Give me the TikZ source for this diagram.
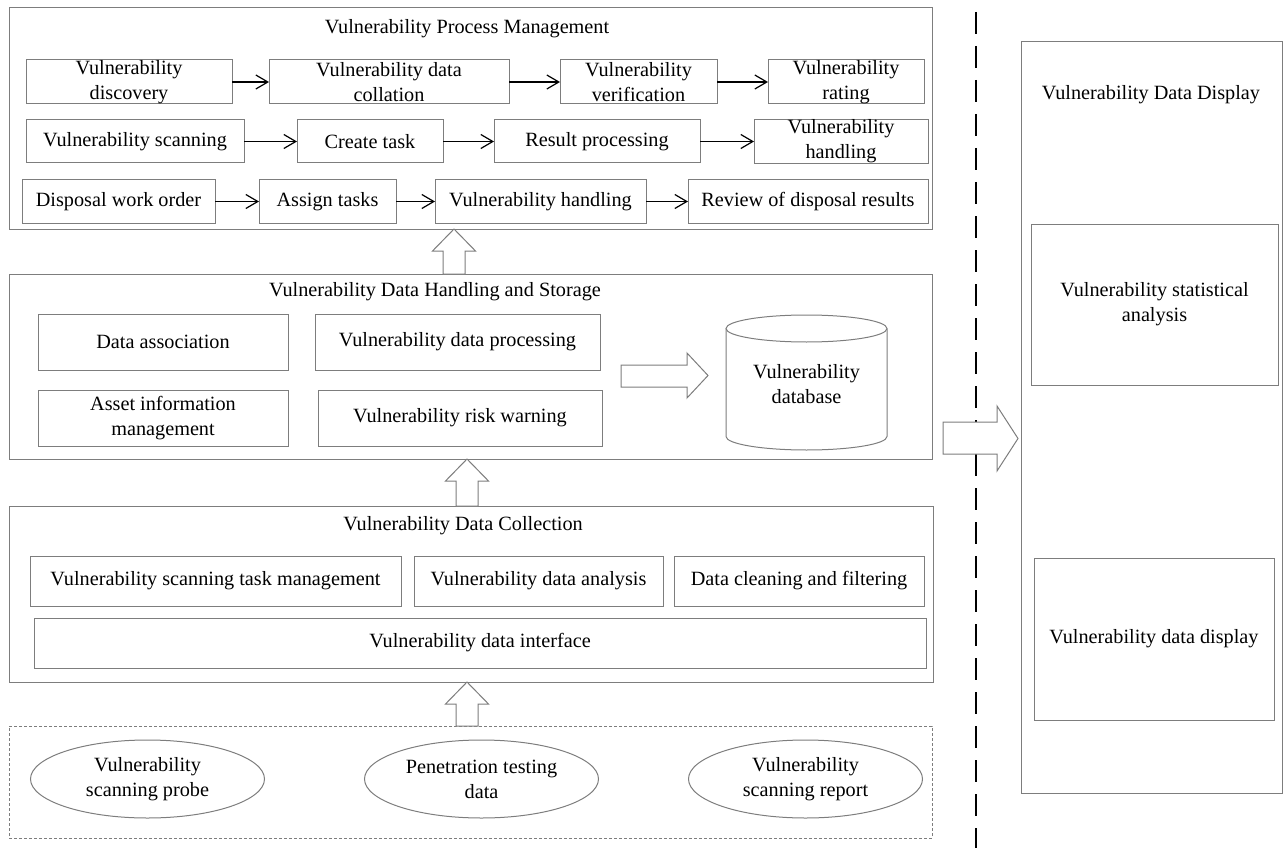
\documentclass[tikz,border=0pt]{standalone}
\usepackage{fontspec}
\setmainfont{Liberation Serif}
\usetikzlibrary{arrows.meta,shapes.geometric}
\definecolor{frameg}{RGB}{125,125,125}
\newcommand\hollowup[3]{%
  \draw[hollow] (#1,#2) -- ({#1+21.5},{#2+22}) -- ({#1+11},{#2+22}) -- ({#1+11},#3)
    -- ({#1-11},#3) -- ({#1-11},{#2+22}) -- ({#1-21.5},{#2+22}) -- cycle;}
\begin{document}
\begin{tikzpicture}[x=1pt,y=-1pt,
  every node/.style={font=\fontsize{20.25}{25}\selectfont, inner sep=0pt, outer sep=0pt, align=center},
  frame/.style={draw=frameg, line width=1pt, rectangle},
  bx/.style 2 args={draw=frameg, line width=1pt, rectangle, minimum width=#1pt, minimum height=#2pt},
  oval/.style={draw=frameg, line width=1pt, ellipse, minimum width=234pt, minimum height=78pt},
  flow/.style={draw=black, line width=1.2pt, -{Straight Barb[length=12pt,width=14pt]}},
  hollow/.style={draw=frameg, line width=1pt, fill=white, line join=miter}]
\useasboundingbox (0,0) rectangle (1283,848);

% ---- containers ----
\node[bx={923}{221}] (pm) at (470.5,118.5) {};
\node[bx={923}{185}] (hs) at (470.5,366.5) {};
\node[bx={924}{176}] (dc) at (471,594) {};
\node[bx={923}{112}, dash pattern=on 3pt off 2pt, line width=0.8pt] (src) at (470.5,782) {};
\node[bx={261}{751}] (disp) at (1151.5,417.5) {};

% ---- titles ----
\node (tpm) at (467,29) {Vulnerability Process Management};
\node (ths) at (435,292) {Vulnerability Data Handling and Storage};
\node (tdc) at (463,526) {Vulnerability Data Collection};
\node (tdisp) at (1151,95) {Vulnerability Data Display};

% ---- process management ----
\node[bx={206}{44}] (disc) at (129,82) {Vulnerability\\discovery};
\node[bx={240}{44}] (coll) at (389,82) {Vulnerability data\\collation};
\node[bx={157}{44}] (verif) at (638.5,82) {Vulnerability\\verification};
\node[bx={156}{44}] (rate) at (846,82) {Vulnerability\\rating};

\node[bx={218}{43}] (scan) at (135,141.5) {Vulnerability scanning};
\node[bx={146}{43}] (task) at (370,141.5) {Create task};
\node[bx={206}{43}] (res) at (597,141.5) {Result processing};
\node[bx={174}{43}] (hand) at (841,141.5) {Vulnerability\\handling};

\node[bx={193}{43}] (order) at (118.5,201.5) {Disposal work order};
\node[bx={137}{43}] (assign) at (327.5,201.5) {Assign tasks};
\node[bx={211}{43}] (handb) at (540.5,201.5) {Vulnerability handling};
\node[bx={240}{43}] (review) at (808,201.5) {Review of disposal results};

\draw[flow] (disc) -- (coll);
\draw[flow] (coll) -- (verif);
\draw[flow] (verif) -- (rate);
\draw[flow] (scan) -- (task);
\draw[flow] (task) -- (res);
\draw[flow] (res) -- (hand);
\draw[flow] (order) -- (assign);
\draw[flow] (assign) -- (handb);
\draw[flow] (handb) -- (review);

% ---- handling and storage ----
\node[bx={250}{56}] (assoc) at (163,342) {Data association};
\node[bx={285}{56}] (proc) at (457.5,342) {Vulnerability data processing};
\node[bx={250}{56}] (asset) at (163,418) {Asset information\\management};
\node[bx={284}{56}] (risk) at (460,418) {Vulnerability risk warning};

% database cylinder
\draw[draw=frameg, line width=1pt] (726,328.5) -- (726,436.5)
  arc[start angle=180, end angle=360, x radius=80.5pt, y radius=13.5pt] -- (887,328.5);
\draw[draw=frameg, line width=1pt] (806.5,328.5) ellipse[x radius=80.5pt, y radius=13.5pt];
\node (db) at (806.5,384) {Vulnerability\\database};

\draw[hollow] (621,365) -- (687,365) -- (687,353) -- (708,375.5) -- (687,398)
  -- (687,387) -- (621,387) -- cycle;

% ---- data collection ----
\node[bx={371}{50}] (stm) at (215.5,581) {Vulnerability scanning task management};
\node[bx={249}{50}] (ana) at (538.5,581) {Vulnerability data analysis};
\node[bx={250}{50}] (clean) at (799,581) {Data cleaning and filtering};
\node[bx={892}{50}] (intf) at (480,643) {Vulnerability data interface};

% ---- data sources ----
\node[oval] (probe) at (147.5,779) {Vulnerability\\scanning probe};
\node[oval] (pen) at (481.5,779) {Penetration testing\\data};
\node[oval] (rep) at (805.5,779) {Vulnerability\\scanning report};

% ---- flow between layers ----
\hollowup{454}{229}{274}
\hollowup{467}{459}{506}
\hollowup{467}{682}{726}

% ---- divider and display side ----
\coordinate (divtop) at (976,12);
\coordinate (divbot) at (976,848);
\draw[black, line width=2pt, dash pattern=on 22pt off 12pt] (divtop) -- (divbot);

\draw[hollow] (943,422) -- (997,422) -- (997,406) -- (1018,438.5) -- (997,471)
  -- (997,454) -- (943,454) -- cycle;

\node[bx={247}{161}] (stat) at (1154.5,304.5) {Vulnerability statistical\\analysis};
\node[bx={240}{162}] (show) at (1154,639) {Vulnerability data display};
\end{tikzpicture}
\end{document}
